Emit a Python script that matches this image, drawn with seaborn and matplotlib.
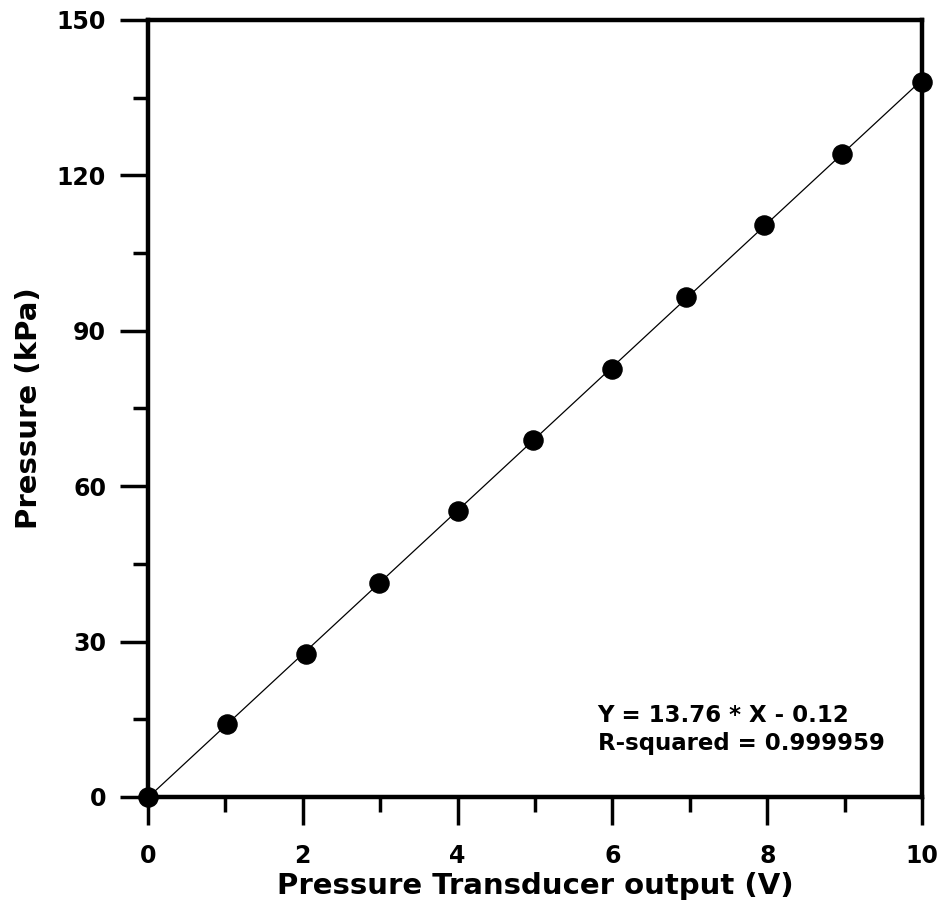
import matplotlib
matplotlib.use("Agg")
import matplotlib.pyplot as plt
import seaborn as sns
import pandas as pd
from matplotlib.ticker import MultipleLocator

voltage = [0.0, 1.02, 2.04, 2.98, 4.0, 4.97, 5.99, 6.95, 7.96, 8.97, 10.0]
pressure = [0.0, 14.0, 27.6, 41.3, 55.2, 68.9, 82.7, 96.6, 110.4, 124.2, 138.1]
x_ticks = [0, 2, 4, 6, 8, 10]
y_ticks = [0, 30, 60, 90, 120, 150]
eq_lines = ["Y = 13.76 * X - 0.12", "R-squared = 0.999959"]

df = pd.DataFrame({"V": voltage, "P": pressure})

sns.set_theme(style="white")
plt.rcParams['font.family'] = ['DejaVu Sans']
plt.rcParams['font.weight'] = 'bold'
plt.rcParams['text.color'] = 'black'
plt.rcParams['axes.labelcolor'] = 'black'
plt.rcParams['xtick.color'] = 'black'
plt.rcParams['ytick.color'] = 'black'

fig = plt.figure(figsize=(9.41, 9.07), dpi=100)
ax = fig.add_axes([0.157, 0.1213, 0.823, 0.8567])

sns.regplot(data=df, x="V", y="P", ax=ax, ci=None, truncate=True,
            scatter_kws=dict(s=190, color="black", edgecolor="black", alpha=1,
                             zorder=3, clip_on=False),
            line_kws=dict(color="black", lw=0.9))

ax.set_xlim(0, 10)
ax.set_ylim(0, 150)
ax.set_xticks(x_ticks)
ax.set_yticks(y_ticks)
ax.xaxis.set_minor_locator(MultipleLocator(1))
ax.yaxis.set_minor_locator(MultipleLocator(15))
ax.tick_params(axis="both", which="major", direction="out", length=20, width=2.5,
               labelsize=17, colors="black", bottom=True, left=True)
ax.tick_params(axis="x", which="major", pad=14)
ax.tick_params(axis="y", which="major", pad=10)
ax.tick_params(axis="both", which="minor", direction="out", length=11, width=2.5,
               color="black", bottom=True, left=True)
for lab in ax.get_xticklabels() + ax.get_yticklabels():
    lab.set_fontweight("bold")
for sp in ax.spines.values():
    sp.set_visible(True)
    sp.set_color("black")
    sp.set_linewidth(3.2)

ax.set_xlabel("Pressure Transducer output (V)", fontsize=21, fontweight="bold",
              labelpad=3, color="black")
ax.set_ylabel("Pressure (kPa)", fontsize=21, fontweight="bold", labelpad=10,
              color="black")

ax.text(5.81, 15.8, eq_lines[0], fontsize=16.5, fontweight="bold", va="center",
        ha="left", color="black")
ax.text(5.81, 10.4, eq_lines[1], fontsize=16.5, fontweight="bold", va="center",
        ha="left", color="black")

fig.savefig("out.png", dpi=100, facecolor="white")
